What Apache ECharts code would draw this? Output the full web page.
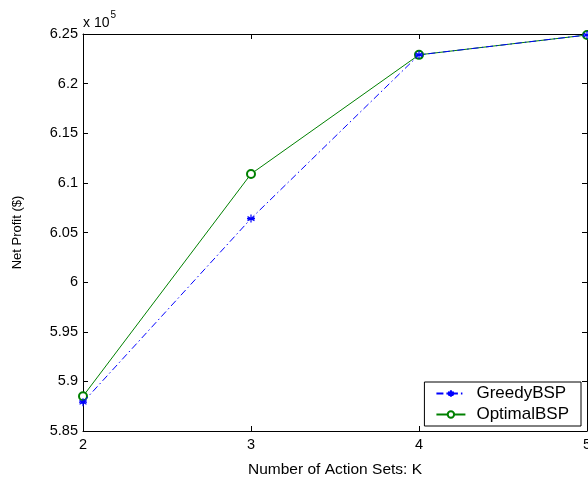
<!DOCTYPE html>
<html><head><meta charset="utf-8">
<script src="https://cdn.jsdelivr.net/npm/echarts@6/dist/echarts.min.js"></script>
<style>html,body{margin:0;padding:0;background:#fff}#c{width:588px;height:479px}</style>
</head><body><div id="c"></div>
<script>
const categories = [2, 3, 4, 5];
const greedyBSP = [587900, 606400, 622900, 624900];
const optimalBSP = [588500, 610900, 622900, 624900];
const yTicks = [585000, 625000, 5000];

const F = '"Liberation Sans", Arial, Helvetica, sans-serif';
const chart = echarts.init(document.getElementById('c'));
const asterisk = 'path://M0,-1L0,1M-0.87,-0.5L0.87,0.5M-0.87,0.5L0.87,-0.5M-1,0L1,0';
const axisCommon = {
  axisLine: {show: true, onZero: false, lineStyle: {color: '#000', width: 1}},
  axisTick: {show: true, inside: true, length: 5, lineStyle: {color: '#000'}},
  splitLine: {show: false}
};
chart.setOption({
  animation: false,
  backgroundColor: '#fff',
  grid: {left: 83, right: 1, top: 34, bottom: 48, outerBoundsMode: 'none', containLabel: false},
  xAxis: [
    Object.assign({type: 'value', min: 2, max: 5, interval: 1, position: 'bottom',
      name: 'Number of Action Sets: K', nameLocation: 'middle', nameGap: 31,
      nameTextStyle: {fontFamily: F, fontSize: 15.5, color: '#000'},
      axisLabel: {fontFamily: F, fontSize: 14.5, color: '#000', margin: 6}}, axisCommon),
    Object.assign({type: 'value', min: 2, max: 5, interval: 1, position: 'top',
      axisLabel: {show: false}}, axisCommon)
  ],
  yAxis: [
    Object.assign({type: 'value', min: yTicks[0], max: yTicks[1], interval: yTicks[2], position: 'left',
      name: 'Net Profit ($)', nameLocation: 'middle', nameGap: 59, nameRotate: 90,
      nameTextStyle: {fontFamily: F, fontSize: 13, color: '#000'},
      axisLabel: {fontFamily: F, fontSize: 14.5, color: '#000', margin: 5,
        formatter: v => String(parseFloat((v / 1e5).toFixed(2)))}}, axisCommon),
    Object.assign({type: 'value', min: yTicks[0], max: yTicks[1], interval: yTicks[2], position: 'right',
      axisLabel: {show: false}}, axisCommon)
  ],
  legend: {
    orient: 'vertical', right: 7, bottom: 53,
    borderColor: '#000', borderWidth: 1, backgroundColor: '#fff',
    padding: [3, 12, 3, 11], itemGap: 4, itemWidth: 29, itemHeight: 8,
    textStyle: {fontFamily: F, fontSize: 17, lineHeight: 17, color: '#000', padding: [0, 0, 0, 6]},
    data: ['GreedyBSP', 'OptimalBSP']
  },
  graphic: [{
    type: 'text', left: 83, top: 10,
    style: {
      text: '{a|x 10}{b|5}',
      rich: {
        a: {fontFamily: F, fontSize: 14, fill: '#000', padding: [6, 0, 0, 0]},
        b: {fontFamily: F, fontSize: 10, fill: '#000', verticalAlign: 'top', padding: [0, 0, 8, 1]}
      }
    }
  }],
  series: [
    {
      name: 'GreedyBSP', type: 'line', data: categories.map((c, i) => [c, greedyBSP[i]]),
      symbol: asterisk, symbolSize: 8, showAllSymbol: true,
      itemStyle: {color: '#0000ff', borderColor: '#0000ff', borderWidth: 1.2},
      lineStyle: {color: '#0000ff', width: 1, type: [7, 3, 1.5, 3]},
      z: 3
    },
    {
      name: 'OptimalBSP', type: 'line', data: categories.map((c, i) => [c, optimalBSP[i]]),
      symbol: 'emptyCircle', symbolSize: 8, showAllSymbol: true,
      itemStyle: {color: '#008000', borderColor: '#008000', borderWidth: 1},
      lineStyle: {color: '#008000', width: 1},
      z: 2
    }
  ]
});
</script></body></html>
